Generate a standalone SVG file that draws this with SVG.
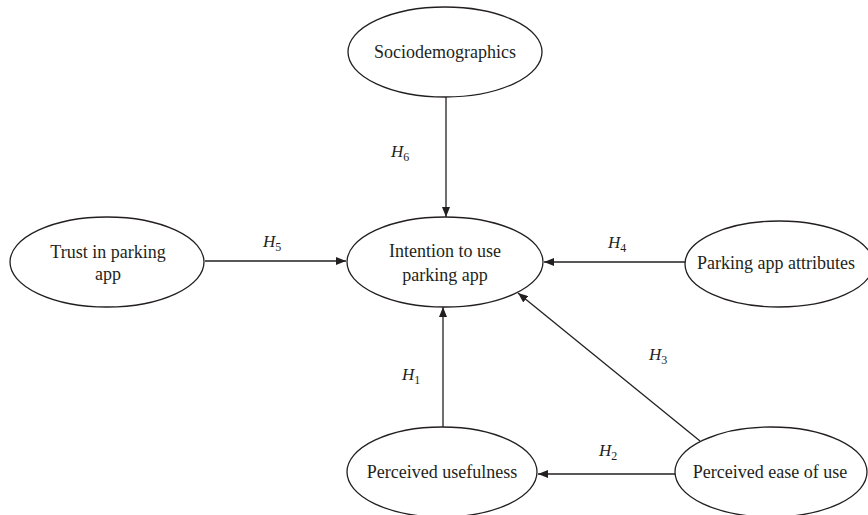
<svg xmlns="http://www.w3.org/2000/svg" width="868" height="515" viewBox="0 0 868 515">
<style>
.n ellipse{fill:#fff;stroke:#231f20;stroke-width:1.3}
.t{font-family:"Liberation Serif","Times New Roman",serif;font-size:18px;fill:#231f20;text-anchor:middle}
.h{font-family:"Liberation Serif","Times New Roman",serif;font-size:17px;font-style:italic;fill:#231f20}
.s{font-size:12px;font-style:normal}
#edges line{stroke:#231f20;stroke-width:1.3;marker-end:url(#ah)}
</style>
<defs>
<marker id="ah" viewBox="0 0 10 8" refX="10" refY="4" markerWidth="10" markerHeight="8" markerUnits="userSpaceOnUse" orient="auto">
<path d="M0,0 L10,4 L0,8 Z" fill="#231f20"/>
</marker>
</defs>
<g id="edges">
<line x1="446" y1="97" x2="446" y2="217"/>
<line x1="205" y1="261" x2="346" y2="261"/>
<line x1="685" y1="262" x2="544" y2="262"/>
<line x1="443" y1="427" x2="443" y2="307"/>
<line x1="700" y1="441" x2="518" y2="293"/>
<line x1="675" y1="474" x2="538" y2="474"/>
</g>
<g id="labels">
<text class="h" x="391" y="157">H<tspan class="s" dy="4">6</tspan></text>
<text class="h" x="263" y="247">H<tspan class="s" dy="4">5</tspan></text>
<text class="h" x="608" y="248">H<tspan class="s" dy="4">4</tspan></text>
<text class="h" x="649" y="360">H<tspan class="s" dy="4">3</tspan></text>
<text class="h" x="402" y="380">H<tspan class="s" dy="4">1</tspan></text>
<text class="h" x="599" y="456">H<tspan class="s" dy="4">2</tspan></text>
</g>
<g id="sociodemographics" class="n">
<ellipse cx="445" cy="52" rx="97" ry="45"/>
<text class="t" x="445" y="58">Sociodemographics</text>
</g>
<g id="trust" class="n">
<ellipse cx="107" cy="262" rx="97" ry="45"/>
<text class="t" x="108" y="258">Trust in parking</text>
<text class="t" x="108" y="280">app</text>
</g>
<g id="intention" class="n">
<ellipse cx="445" cy="262" rx="98" ry="45"/>
<text class="t" x="445" y="257">Intention to use</text>
<text class="t" x="445" y="281">parking app</text>
</g>
<g id="attributes" class="n">
<ellipse cx="779" cy="264" rx="94" ry="43"/>
<text class="t" x="776" y="269">Parking app attributes</text>
</g>
<g id="usefulness" class="n">
<ellipse cx="442" cy="472" rx="95" ry="45"/>
<text class="t" x="442" y="478">Perceived usefulness</text>
</g>
<g id="ease" class="n">
<ellipse cx="771" cy="472" rx="96" ry="45"/>
<text class="t" x="770" y="478">Perceived ease of use</text>
</g>
</svg>
